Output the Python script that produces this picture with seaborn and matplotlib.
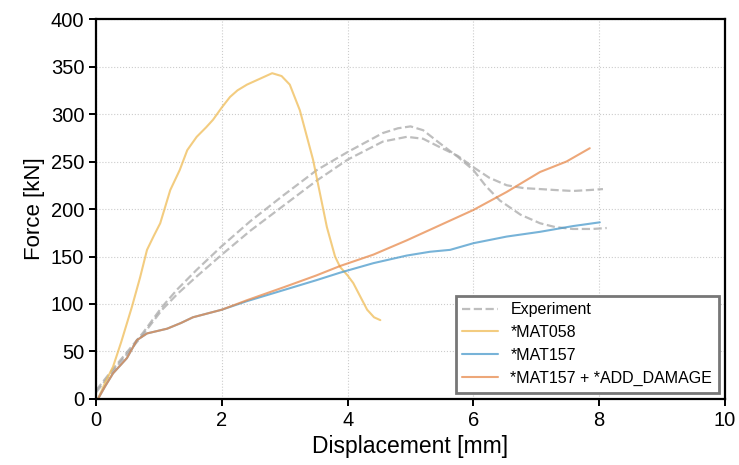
import numpy as np
import pandas as pd
import matplotlib
matplotlib.use("Agg")
import matplotlib.pyplot as plt
import seaborn as sns

# experiment, specimen A (higher peak)
exp_a_x = [0.0, 0.25, 0.5, 0.75, 1.05, 1.3, 1.6, 2.0, 2.45, 2.97, 3.51, 4.0, 4.56, 4.8, 5.0, 5.2, 5.47, 5.75, 6.0, 6.2, 6.42, 6.75, 7.06, 7.3, 7.58, 7.9, 8.12]
exp_a_y = [9, 30, 50, 70, 97, 116, 136, 161, 187, 214, 241, 260, 280, 285, 287, 283, 269, 255, 241, 224, 209, 194, 185, 181, 179, 179, 180]
# experiment, specimen B (lower peak)
exp_b_x = [0.0, 0.25, 0.5, 0.75, 1.05, 1.3, 1.6, 2.0, 2.45, 2.97, 3.51, 4.0, 4.56, 4.94, 5.2, 5.47, 5.75, 6.0, 6.25, 6.53, 6.8, 7.06, 7.3, 7.58, 7.85, 8.06]
exp_b_y = [7, 28, 48, 68, 94, 111, 129, 152, 177, 203, 230, 252, 271, 276, 274, 265, 256, 244, 233, 225, 222, 221, 220, 219, 220, 221]

mat058_x = [0.03, 0.15, 0.27, 0.4, 0.57, 0.7, 0.81, 0.92, 1.02, 1.18, 1.33, 1.45, 1.6, 1.75, 1.86, 2.0, 2.13, 2.25, 2.4, 2.6, 2.8, 2.95, 3.08, 3.24, 3.45, 3.67, 3.8, 3.88, 4.0, 4.09, 4.2, 4.31, 4.42, 4.52]
mat058_y = [0, 18, 34, 60, 97, 128, 157, 172, 185, 220, 241, 262, 276, 286, 294, 307, 318, 325, 331, 337, 343, 340, 331, 304, 252, 181, 150, 139, 130, 122, 108, 94, 86, 83]

mat157_x = [0.03, 0.15, 0.27, 0.49, 0.65, 0.81, 1.13, 1.35, 1.54, 2.0, 2.4, 3.0, 3.5, 3.88, 4.41, 4.94, 5.31, 5.63, 6.0, 6.53, 7.06, 7.58, 8.01]
mat157_y = [0, 14, 27, 43, 62, 69, 74, 80, 86, 94, 103, 115, 125, 133, 143, 151, 155, 157, 164, 171, 176, 182, 186]

dmg_x = [0.03, 0.15, 0.27, 0.49, 0.65, 0.81, 1.13, 1.35, 1.54, 2.0, 2.4, 3.0, 3.5, 3.88, 4.41, 4.94, 5.47, 6.0, 6.53, 7.06, 7.48, 7.85]
dmg_y = [0, 14, 27, 43, 62, 69, 74, 80, 86, 94, 104, 118, 130, 140, 152, 167, 183, 199, 218, 239, 250, 264]

sns.set_style("ticks")
plt.rcParams['font.family'] = ['Liberation Sans', 'DejaVu Sans']
plt.rcParams['text.color'] = 'black'
plt.rcParams['axes.labelcolor'] = 'black'

fig, ax = plt.subplots(figsize=(7.39, 4.65), dpi=100)
fig.subplots_adjust(left=0.13, right=0.981, top=0.959, bottom=0.142)

gray = "#a8a8a8"
sns.lineplot(x=exp_a_x, y=exp_a_y, ax=ax, color=gray, lw=1.6, ls="--", alpha=0.75, label="Experiment")
sns.lineplot(x=exp_b_x, y=exp_b_y, ax=ax, color=gray, lw=1.6, ls="--", alpha=0.75)
sns.lineplot(x=mat058_x, y=mat058_y, ax=ax, color="#f0c060", lw=1.5, alpha=0.8, label="*MAT058")
sns.lineplot(x=mat157_x, y=mat157_y, ax=ax, color="#4a9acb", lw=1.5, alpha=0.75, label="*MAT157")
sns.lineplot(x=dmg_x, y=dmg_y, ax=ax, color="#e88a4c", lw=1.5, alpha=0.75, label="*MAT157 + *ADD_DAMAGE")

ax.set_xlim(0, 10)
ax.set_ylim(0, 400)
ax.set_xticks([0, 2, 4, 6, 8, 10])
ax.set_yticks(range(0, 401, 50))
ax.grid(True, ls=":", color="#cccccc", lw=0.8)
ax.set_axisbelow(True)
for s in ax.spines.values():
    s.set_linewidth(1.6)
    s.set_color("black")
ax.tick_params(labelsize=14.5, width=1.4, length=5, direction="out", colors="black")
ax.set_xlabel("Displacement [mm]", fontsize=16.5)
ax.set_ylabel("Force [kN]", fontsize=16)

leg = ax.legend(loc="lower right", fontsize=11.5, fancybox=False, framealpha=1,
                handlelength=2.2, handletextpad=0.8, borderaxespad=0.4, labelspacing=0.5)
leg.get_frame().set_edgecolor("#777777")
leg.get_frame().set_linewidth(2)

fig.savefig("out.png", dpi=100)
